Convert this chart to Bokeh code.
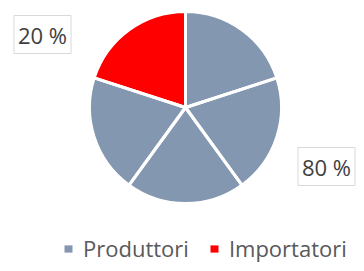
import numpy as np
from bokeh.plotting import figure
from bokeh.models import ColumnDataSource, Range1d, Label, Legend, LegendItem
from bokeh.embed import file_html
from bokeh.resources import INLINE

# ---- data ----
series = ["Produttori", "Produttori", "Produttori", "Produttori", "Importatori"]
values = [20, 20, 20, 20, 20]
colors = ["#8497B0", "#8497B0", "#8497B0", "#8497B0", "#FF0000"]
group_names = ["Produttori", "Importatori"]
group_pcts = ["80 %", "20 %"]

W, H = 356, 263
CX, CY, R = 185, 156, 96

vals = np.array(values, dtype=float)
cum = np.cumsum(vals)
prev = cum - vals
tot = vals.sum()
end_a = np.pi / 2 - 2 * np.pi * prev / tot
start_a = np.pi / 2 - 2 * np.pi * cum / tot

src = ColumnDataSource(dict(series=series, start=start_a, end=end_a, color=colors))

p = figure(width=W, height=H, x_range=Range1d(0, W), y_range=Range1d(0, H),
           output_backend="svg", toolbar_location=None, min_border=0)
p.axis.visible = False
p.grid.visible = False
p.outline_line_color = None
p.background_fill_color = "white"
p.border_fill_color = "white"

fill_r = p.wedge(x=CX, y=CY, radius=R, start_angle="start", end_angle="end",
                 fill_color="color", line_color=None, source=src)
p.wedge(x=CX, y=CY, radius=R, start_angle="start", end_angle="end",
        fill_color=None, line_color="white", line_width=3, source=src)

# percentage labels
lab_pos = {"Importatori": (42, 229), "Produttori": (326, 97)}
for name, pct in zip(group_names, group_pcts):
    x, y = lab_pos[name]
    p.add_layout(Label(x=x, y=y, text=pct, text_align="center", text_baseline="middle",
                       text_font="Open Sans", text_font_size="22px", text_color="#404040",
                       background_fill_color="white", border_line_color="#d9d9d9",
                       padding=4))

items = []
for name in group_names:
    idx = series.index(name)
    items.append(LegendItem(label=name, renderers=[fill_r], index=idx))
legend = Legend(items=items, orientation="horizontal", location=(63, 0),
                glyph_width=10, glyph_height=9, label_standoff=10, spacing=20,
                padding=0, margin=0, border_line_color=None, background_fill_alpha=0,
                label_text_font="Open Sans", label_text_font_size="22px",
                label_text_color="#595959")
p.add_layout(legend)

open("out.html", "w").write(file_html(p, INLINE))
